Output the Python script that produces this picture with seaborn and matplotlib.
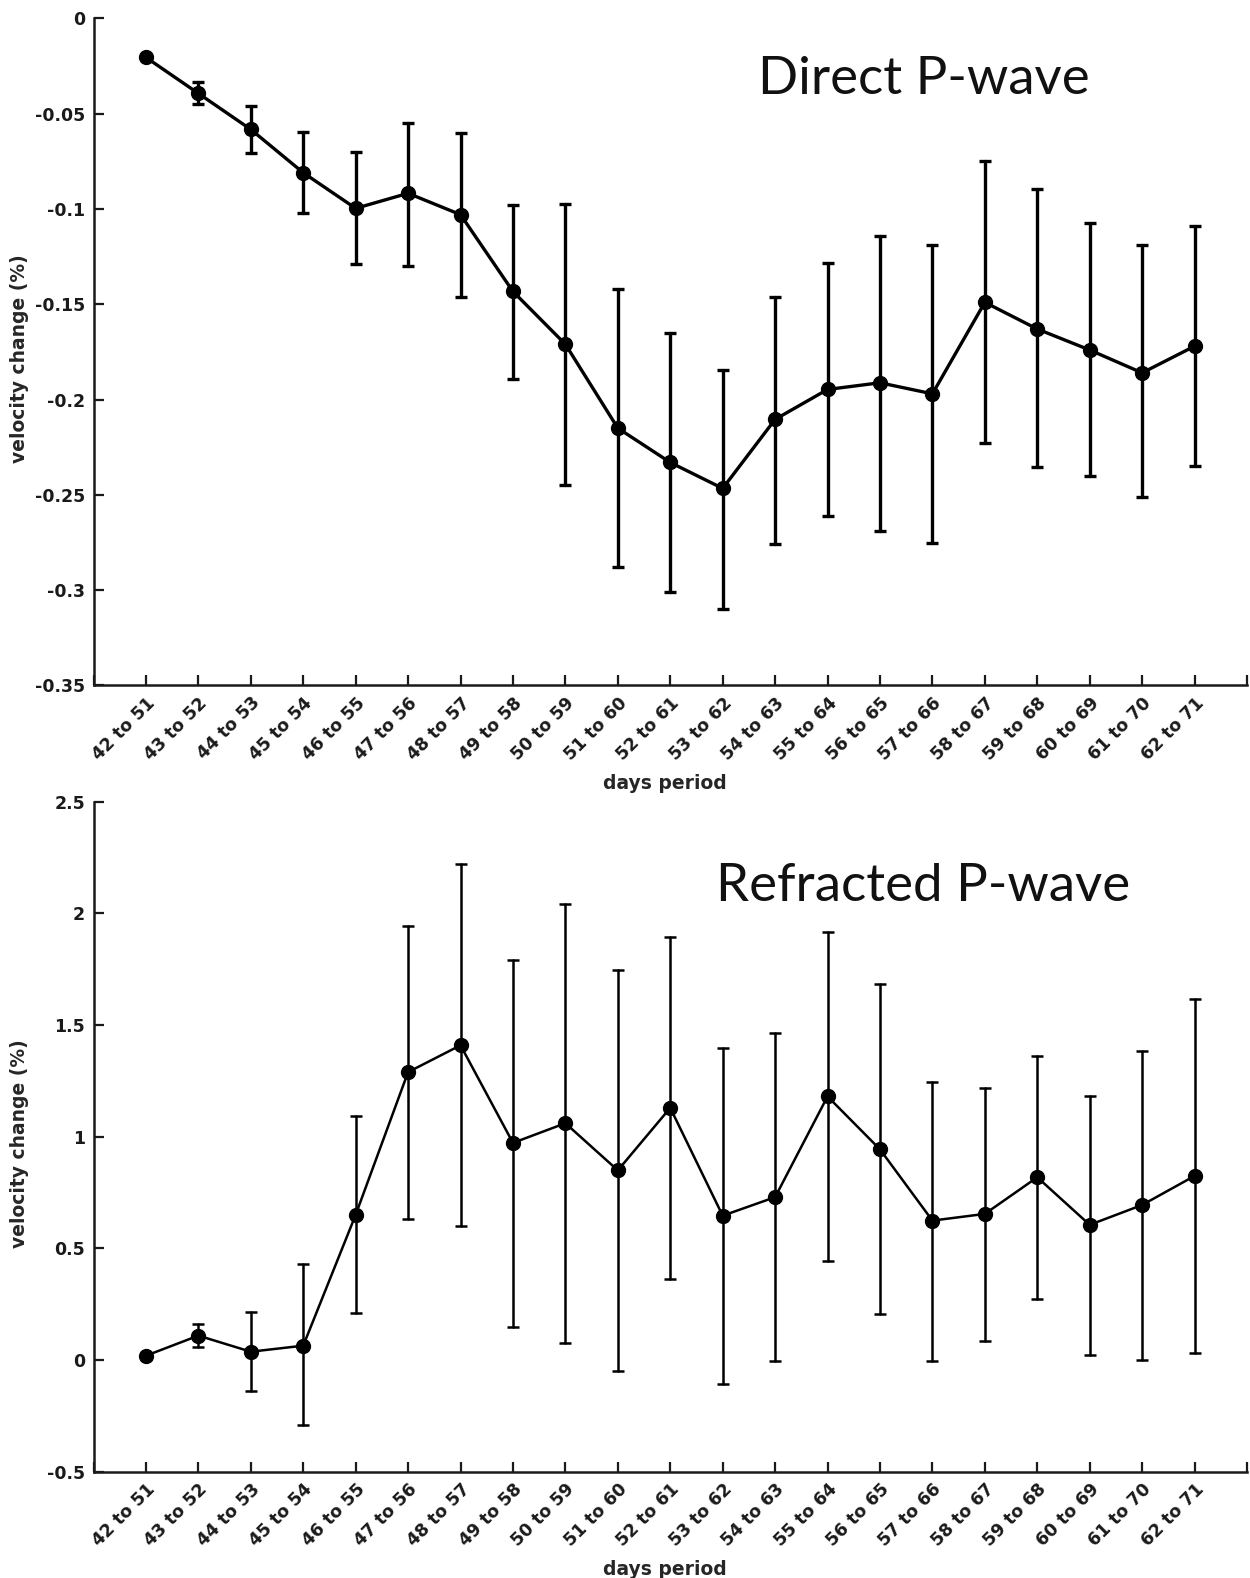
import numpy as np
import pandas as pd
import matplotlib.pyplot as plt
import seaborn as sns

# ---------------------------------- data ----------------------------------- #
periods = ['42 to 51', '43 to 52', '44 to 53', '45 to 54', '46 to 55', '47 to 56',
           '48 to 57', '49 to 58', '50 to 59', '51 to 60', '52 to 61', '53 to 62',
           '54 to 63', '55 to 64', '56 to 65', '57 to 66', '58 to 67', '59 to 68',
           '60 to 69', '61 to 70', '62 to 71']

direct_mid = [-0.0205, -0.0394, -0.0583, -0.0810, -0.0997, -0.0918, -0.1030,
              -0.1433, -0.1710, -0.2150, -0.2330, -0.2466, -0.2104, -0.1947,
              -0.1912, -0.1970, -0.1490, -0.1630, -0.1740, -0.1860, -0.1720]
direct_hi = [-0.0205, -0.0336, -0.0459, -0.0598, -0.0703, -0.0550, -0.0600,
             -0.0980, -0.0976, -0.1420, -0.1650, -0.1847, -0.1464, -0.1286,
             -0.1144, -0.1190, -0.0750, -0.0897, -0.1076, -0.1190, -0.1090]
direct_lo = [-0.0205, -0.0450, -0.0708, -0.1023, -0.1290, -0.1300, -0.1460,
             -0.1890, -0.2450, -0.2876, -0.3010, -0.3100, -0.2760, -0.2613,
             -0.2688, -0.2750, -0.2230, -0.2356, -0.2400, -0.2513, -0.2350]

refr_mid = [0.019, 0.109, 0.037, 0.064, 0.650, 1.289, 1.409, 0.972, 1.060, 0.849,
            1.129, 0.646, 0.729, 1.180, 0.943, 0.624, 0.654, 0.818, 0.605, 0.694,
            0.824]
refr_hi = [0.019, 0.161, 0.214, 0.430, 1.093, 1.942, 2.220, 1.793, 2.041, 1.745,
           1.894, 1.398, 1.465, 1.917, 1.684, 1.246, 1.219, 1.361, 1.184, 1.385,
           1.617]
refr_lo = [0.019, 0.060, -0.138, -0.291, 0.210, 0.633, 0.601, 0.146, 0.077, -0.050,
           0.361, -0.107, -0.006, 0.445, 0.206, -0.004, 0.086, 0.272, 0.022, 0.000,
           0.033]

direct_yticks = [0, -0.05, -0.1, -0.15, -0.2, -0.25, -0.3, -0.35]
refr_yticks = [-0.5, 0, 0.5, 1, 1.5, 2, 2.5]


def long_table(mid, lo, hi):
    # three rows per period: lower end, value, upper end
    pos = np.arange(1, len(mid) + 1)
    return pd.DataFrame({'pos': np.tile(pos, 3),
                         'val': np.concatenate([lo, mid, hi])})


def draw_panel(ax, mid, lo, hi, lw, yticks, ylim, title, title_xy):
    sns.lineplot(data=long_table(mid, lo, hi), x='pos', y='val', ax=ax,
                 estimator='median', errorbar=lambda v: (v.min(), v.max()),
                 err_style='bars', color='black', lw=lw, marker='o',
                 markersize=10, mec='black', mew=1,
                 err_kws=dict(capsize=4.5, elinewidth=lw, capthick=lw))
    ax.set_xlim(0, 22)
    ax.set_ylim(*ylim)
    ax.set_xticks(range(0, 23))
    ax.set_xticklabels([''] + periods + [''], rotation=45, ha='right',
                       rotation_mode='anchor')
    ax.set_yticks(yticks)
    ax.set_yticklabels(['%g' % t for t in yticks])
    ax.tick_params(direction='in', length=7, width=1.6, labelsize=12.5,
                   pad=6, colors='#1a1a1a')
    for s in ['top', 'right']:
        ax.spines[s].set_visible(False)
    for s in ['left', 'bottom']:
        ax.spines[s].set_linewidth(1.8)
        ax.spines[s].set_color('#1a1a1a')
    ax.set_xlabel('days period', fontsize=13.5, fontweight='bold')
    ax.set_ylabel('velocity change (%)', fontsize=13.5, fontweight='bold')
    ax.xaxis.set_label_coords(0.495, -0.132)
    ax.yaxis.set_label_coords(-0.056, 0.49)
    ax.text(title_xy[0], title_xy[1], title, transform=ax.transAxes,
            fontsize=38, fontweight='normal', family='Lato',
            ha='left', va='center', color='#111111')


sns.set_style('ticks')
plt.rcParams['font.family'] = ['DejaVu Sans']
plt.rcParams['font.weight'] = 'bold'

fig = plt.figure(figsize=(12.5, 15.78), dpi=100)
ax1 = fig.add_axes([0.0748, 0.5656, 0.9228, 0.4228])
ax2 = fig.add_axes([0.0748, 0.0674, 0.9228, 0.4246])

draw_panel(ax1, direct_mid, direct_lo, direct_hi, 2.4, direct_yticks,
           (-0.35, 0), 'Direct P-wave', (0.576, 0.908))
draw_panel(ax2, refr_mid, refr_lo, refr_hi, 1.8, refr_yticks,
           (-0.5, 2.5), 'Refracted P-wave', (0.540, 0.874))

fig.savefig('out.png', dpi=100, facecolor='white')
